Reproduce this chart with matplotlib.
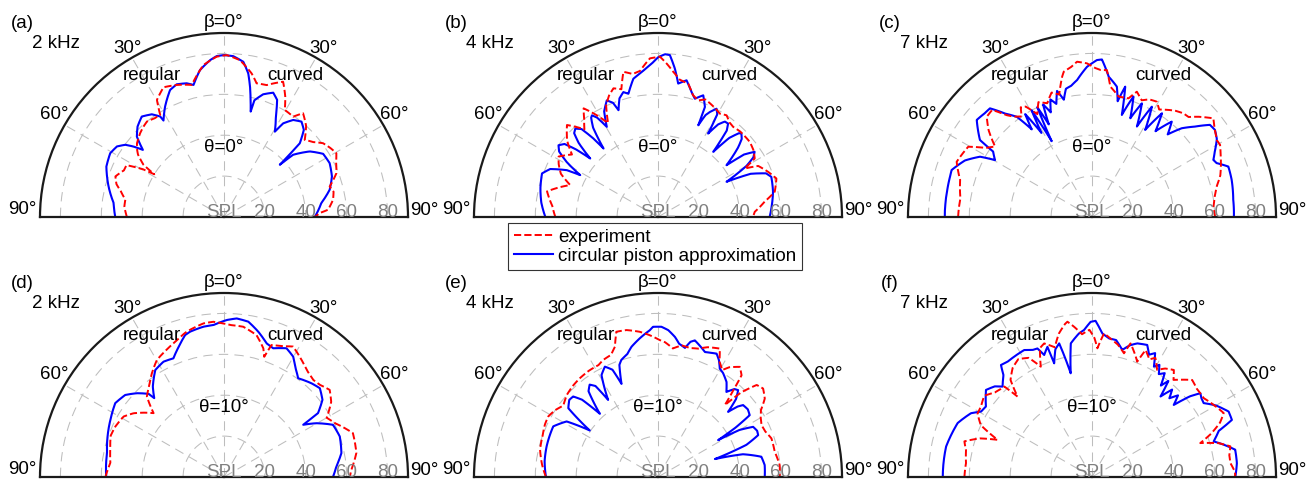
import numpy as np
import matplotlib
matplotlib.use("Agg")
import matplotlib.pyplot as plt
from matplotlib.lines import Line2D

plt.rcParams['font.family'] = ['Liberation Sans', 'DejaVu Sans']

# ---------------- data: (angle in degrees, SPL in dB) ----------------
A_BLUE = [(-90, 53.2), (-82.8, 54.4), (-75.2, 58.4), (-66.8, 62.6), (-60.7, 63.8), (-56.6, 62.7), (-53.8, 59.8),
          (-52.1, 56.1), (-50.4, 51.5), (-47.3, 58), (-43.7, 61.2), (-39.3, 63.5), (-35.1, 61.4), (-32.4, 58.2),
          (-32.1, 55.7), (-28.1, 61.2), (-23, 67.5), (-19.6, 68.9), (-15.6, 67.9), (-13, 66.3), (-9.3, 72.8),
          (-5.1, 77), (-2.6, 78.8), (0, 79.2), (3.3, 78.8), (7.1, 76.5), (9.6, 71.2), (11.3, 65), (12.8, 58.7),
          (14.2, 53.2), (14.6, 59), (17.7, 63), (21.6, 65.4), (24.4, 62.9), (27.3, 55.3), (30.8, 48.6),
          (32.3, 54.2), (35.5, 58.3), (39.1, 60.1), (42.5, 57.8), (45.8, 51.7), (46.9, 37.4), (48, 45.5),
          (52.6, 52.8), (57.5, 57.5), (63, 58), (69.4, 56.4), (75.5, 53.4), (81.8, 48.1), (90, 44.4)]
A_RED_DEG = [-90, -84, -80, -76, -73, -69.5, -65, -62, -59.5, -58.5, -57, -54, -52, -49.7, -45, -41.7, -38.9, -35, -32,
             -29.8, -25, -19.7, -13.7, -7.7, -2.6, 1, 5.8, 10.9, 13.7, 17.9, 23.6, 27, 29.6, 34.6, 37.3, 42, 46.3, 50,
             53.3, 57, 60.4, 64, 68.7, 73.9, 77, 81, 86, 87.6, 90]
A_RED_SPL = [47.5, 49, 49, 52, 55, 56.7, 54, 54, 46, 40, 47, 52, 54, 55.8, 58, 59.2, 60, 59, 58.9,
             66, 70, 68.6, 66.5, 75, 78.5, 79.2, 77.1, 71.5, 67.3, 67.8, 72.2, 66, 60.2, 59.6, 63.8, 60, 54.6, 57,
             60.4, 62, 63.2, 61, 59, 53.8, 55, 54, 51, 46.9, 44.4]

B_BLUE = [(-90, 55.1), (-83, 57.5), (-76.3, 59.2), (-69.4, 60.6), (-66, 57.7), (-62.8, 50.1), (-61.7, 43.2),
          (-59, 52), (-56.5, 58), (-54.2, 60), (-52, 58), (-50.5, 52), (-49.2, 43.8), (-47, 53), (-45, 58),
          (-43.1, 59.2), (-41, 57), (-39.5, 50), (-38.5, 42.8), (-36, 54), (-34, 58.5), (-33, 59.3), (-31.5, 57),
          (-29.6, 50.7), (-27, 58), (-23.7, 62.3), (-21.5, 60), (-20.3, 55.7), (-18, 61), (-15.5, 63.4),
          (-13.5, 62), (-10.1, 68.7), (-6.4, 71.3), (-2.4, 75), (0.1, 78.2), (2.5, 79.7), (4.2, 79.4), (6.5, 73),
          (8.6, 66), (11.8, 68.3), (15, 63.3), (17.3, 60.6), (20.4, 63.5), (23.1, 58.5), (23.7, 49), (25, 55),
          (26.3, 57.3), (28.4, 60.2), (30, 58), (31, 47.6), (33, 54), (35, 57), (36.9, 57.1), (38.5, 54),
          (40.3, 41.8), (42, 52), (44, 57), (45, 57.7), (47, 56), (49, 52), (52.9, 42), (54, 52), (56, 57),
          (58, 55), (60, 50), (62.8, 37.7), (65, 50), (68, 57), (70.5, 58.8), (77.6, 57.6), (84, 56), (90, 54.6)]
B_RED = [(-90, 50.2), (-84, 52), (-77, 55.7), (-73, 50), (-70, 45.7), (-66, 52), (-62, 55), (-58.7, 56.9),
         (-54, 52), (-50, 58), (-47, 61), (-44.7, 63.3), (-40, 56), (-37, 60), (-34.4, 64.4), (-31, 58), (-28, 52),
         (-25, 60), (-22, 64), (-19.1, 66.6), (-16, 65), (-13.4, 73), (-10, 71), (-7, 72), (-2.9, 77.7),
         (0.7, 78.4), (3.2, 75.2), (6, 71.4), (9, 68), (12.8, 66.8), (16, 62), (19, 60.3), (22, 62), (25, 61),
         (28, 60), (30.9, 58.9), (34, 60), (37, 58), (39.8, 57.4), (44, 58), (47, 58), (50.7, 58), (55, 57),
         (58.8, 55.3), (60.8, 48.6), (63, 55), (67.7, 58.2), (72, 60.9), (77.8, 58.4), (81.8, 52.7), (86.9, 47.4),
         (90, 46.4)]

C_BLUE_DEG = [-90, -80, -74, -71.5, -66, -61.7, -59.6, -56.5, -55.5, -52, -49.9, -46, -43.2, -40, -36.9, -34.5, -33,
              -31, -29.5, -28, -26.5, -25, -23.5, -21.5, -19.5, -17.5, -15.5, -13.5, -11.5, -9, -6.2, -1.9, 1.8, 3.6,
              6.8, 10.8, 12.5, 14.3, 16.3, 19, 21.2, 23.7, 26.4, 28.5, 31.4, 34, 36.5, 39.9, 42.5, 45.3, 48.7, 52,
              54.7, 58, 62, 64.8, 66.6, 69.7, 75, 83, 90]
C_BLUE_SPL = [72, 72, 72.2, 72.4, 68, 62.2, 55, 58, 66.5, 71, 73.7, 73, 72.9, 66, 61.3, 52, 60,
              48, 60, 42, 60, 50, 60, 55, 61, 58, 64, 59, 64, 65, 67.4, 73.5, 76.8, 77.2,
              69.1, 64.9, 58, 65.8, 52, 62.3, 51.8, 60.7, 49.4, 61.4, 49.9, 61.2, 52.2, 60.8, 54.8, 61.7, 67, 73.2,
              73.7, 72, 68, 65.6, 66.4, 71.1, 70.7, 69.6, 69.4]
C_RED_DEG = [-90, -82, -74.3, -67.8, -62, -60.4, -57, -54, -50, -46.4, -43, -40, -37.9, -35, -33, -31, -28, -25,
             -21.5, -18, -15, -12, -11, -8, -5.5, -1.9, 1, 3.2, 5.8, 8, 12.5, 17.1, 19.7, 23, 26, 29.3, 32, 35, 38,
             41.4, 44, 46.7, 50.9, 54, 58.3, 60.6, 64, 68, 72, 76.2, 80, 85, 90]
C_RED_SPL = [65.5, 65, 67, 71.5, 70, 69.6, 62, 58.6, 66, 71.1, 71.6, 65, 62.2, 60, 64, 63, 57, 62,
             59.8, 64, 62, 70.2, 72.4, 74, 76.3, 75.2, 73, 72, 72.2, 64.4, 60.3, 60.7, 65.1, 62, 64, 64.7, 62, 64, 66,
             67.6, 68, 71.5, 76.5, 74, 71.7, 71.9, 70, 68, 66, 62.8, 61, 59.6, 60.2]

D_BLUE = [(-90, 57.6), (-78.4, 58.4), (-63.3, 62.2), (-55.8, 64.3), (-50.3, 62.8), (-46.1, 59.1), (-42.2, 54.9),
          (-41.5, 51.5), (-38.2, 56.3), (-32.7, 62.2), (-27.7, 63.7), (-23.1, 63.1), (-19.4, 67.2), (-15.3, 72),
          (-13.1, 73), (-7.8, 74.2), (-4, 74.5), (1, 76.8), (4.6, 77.8), (8.9, 76.9), (13.3, 73), (17.7, 68.6),
          (20.9, 67.4), (25.9, 70), (29.9, 67.9), (33, 64), (36.9, 60.4), (43, 62.7), (47.2, 63.9), (51.9, 61.2),
          (55.8, 55.6), (56.6, 46.4), (59.8, 52.3), (64.4, 59.1), (70.7, 60), (78.5, 58.6), (84.6, 55.2),
          (90, 53.3)]
D_RED_DEG = [-90, -83, -76.5, -70, -65.1, -58.9, -54.8, -51, -47.8, -43.8, -39, -34.8, -29.8, -25, -20.7, -14.4,
             -7.6, -3.9, 2.3, 7.3, 12.9, 17, 18.5, 19.8, 24, 27.9, 33.5, 38, 42.5, 46, 50.5, 55, 60, 64, 71.2, 79.7,
             86.7, 90]
D_RED_SPL = [58, 56, 57.2, 59, 58.6, 57.3, 54.1, 50, 46.5, 54.5, 58, 61.8, 66, 68, 69.9, 73.4,
             75.8, 76.1, 74.4, 74.1, 71.2, 65.8, 62, 68.6, 70, 72.2, 68.7, 66, 64.5, 65, 67, 64, 58, 60.2, 66.6, 65.8,
             62.4, 61.5]

E_BLUE = [(-90, 54.8), (-82, 56), (-74.6, 56.5), (-64.2, 56.9), (-58.7, 52.3), (-55.7, 40.4), (-52.5, 55.3),
          (-49, 57.5), (-46.5, 57.2), (-44.5, 53), (-42.6, 42), (-39, 54), (-36.5, 56.2), (-34.5, 54),
          (-32.9, 44.9), (-29, 57), (-25.7, 59.9), (-23, 57), (-21.4, 48.9), (-19, 58), (-17.4, 60), (-14, 62),
          (-11.5, 65), (-7.5, 68.4), (-3.2, 71.9), (-1.9, 73.5), (1.3, 73.5), (4, 72), (6.9, 69), (9, 66),
          (11.8, 64.5), (13.5, 68), (15.1, 69.2), (17.5, 67.5), (20.6, 65.3), (23, 66), (25.4, 66.8), (27.5, 64.5),
          (29.7, 61), (32, 60), (35.8, 57.3), (38.8, 53.4), (41, 57), (42.7, 57.8), (45, 54), (47.1, 46.8),
          (48.5, 52), (49.8, 54.5), (53, 55), (56, 54.1), (57.5, 45), (58.5, 34.5), (60, 46), (62.2, 52.6),
          (65, 53.5), (67.3, 53.1), (70, 46), (72.5, 29.2), (75, 43), (78.9, 51.5), (83.6, 52.5), (90, 52.2)]
E_RED = [(-90, 54.8), (-84, 57), (-77, 59.2), (-70, 60), (-65, 61), (-61.1, 61.3), (-57, 60), (-53, 58), (-48, 60),
         (-43, 61), (-38.4, 61.6), (-33, 62), (-28, 62), (-25.1, 63.2), (-21, 64), (-18.3, 67.1), (-16, 73.9),
         (-12.1, 73.5), (-7.2, 71.6), (-3.4, 69.5), (0.7, 67), (3, 66), (6.6, 63.3), (10.2, 65.4), (14, 65),
         (17.4, 65.8), (21, 68), (25.7, 69.7), (28, 64), (31, 61), (33, 64), (36.6, 67.1), (39.4, 64.4), (41, 56),
         (42.9, 48), (44.5, 58), (47, 66), (49.9, 67.2), (53.7, 64.8), (57, 60), (60, 58), (63.4, 56.6), (67, 57),
         (71.2, 58.6), (77.8, 58.4), (84.4, 59.8), (90, 59.5)]

F_BLUE_DEG = [-90, -78.2, -68.1, -62.2, -59.5, -56.4, -50.6, -47, -44.7, -41, -39.1, -36.2, -32.9, -28.1, -25.1, -23,
              -21.4, -18.9, -18.4, -16, -13.8, -11.6, -9, -5.2, -3.1, -0.5, 1.3, 4.1, 7, 10, 13.4, 16, 18.7, 22.7,
              25, 27, 29.3, 31, 33, 35, 37, 38.5, 40.4, 42.5, 44.5, 46.5, 48.6, 50.5, 52.3, 54, 56.5, 60, 64.4, 67.8,
              70, 73.7, 76, 79.2, 84.5, 90]
F_BLUE_SPL = [73, 72.9, 70.8, 66.9, 63, 62.3, 67.1, 65, 62.2, 66, 70.6, 69.9, 70.1, 70.4, 68.6, 68.3,
              64.1, 67.3, 58.6, 65, 67.3, 51.8, 66.2, 70.5, 72, 75.9, 76.4, 70.4, 68.3, 68, 63.9, 67, 69, 70,
              66, 68, 61.9, 64, 60, 62, 56, 60, 51.7, 58, 54, 58, 53.3, 62, 67, 66, 65.5, 70, 74.1, 73.9,
              66, 62, 66, 71.3, 71.2, 70.1]
F_RED_DEG = [-90, -83.7, -78, -74.4, -71, -68.5, -65, -61, -57.6, -53, -49, -46, -44.1, -42.8, -40, -36, -32, -28,
             -24.9, -22, -19.7, -16, -13, -10, -9, -6.8, -4, -1, 1, 2.4, 4.8, 8, 11, 14.5, 16.1, 19, 21.4, 22.9, 26,
             28, 31.3, 34, 37.4, 40, 42, 45.9, 50, 54.8, 59, 64.1, 67, 70, 72.6, 75, 77.5, 81, 84.2, 88, 90]
F_RED_SPL = [62.4, 62, 63, 64.8, 58, 49.6, 60, 64, 64.3, 66, 63, 62, 61.6, 53.6, 62, 66, 68, 66,
             59.5, 68, 69.4, 66, 72, 76, 76.9, 74, 70, 72, 68, 63, 70.5, 68, 66, 62.5, 68, 64, 60.6, 67.4, 64,
             66, 61.3, 64, 65.9, 62, 64, 68.2, 67, 66.9, 69, 71.6, 68, 62, 55.5, 64, 69.3, 68, 68, 70, 70]

PANEL_LABELS = ['(a)', '(b)', '(c)', '(d)', '(e)', '(f)']
FREQ_LABELS = ['2 kHz', '4 kHz', '7 kHz', '2 kHz', '4 kHz', '7 kHz']
THETA_LABELS = ['θ=0°', 'θ=0°', 'θ=0°', 'θ=10°', 'θ=10°', 'θ=10°']
ANGLE_LABELS = ['90°', '60°', '30°', 'β=0°', '30°', '60°', '90°']
SPL_TICKS = [0, 20, 40, 60, 80]
SPL_TICK_LABELS = ['SPL', '20', '40', '60', '80']
SIDE_LABELS = ['regular', 'curved']
LEGEND_LABELS = ['experiment', 'circular piston approximation']


def split(pairs):
    arr = np.asarray(pairs, dtype=float)
    return arr[:, 0], arr[:, 1]


BLUE = [split(A_BLUE), split(B_BLUE), (C_BLUE_DEG, C_BLUE_SPL),
        split(D_BLUE), split(E_BLUE), (F_BLUE_DEG, F_BLUE_SPL)]
RED = [(A_RED_DEG, A_RED_SPL), split(B_RED), (C_RED_DEG, C_RED_SPL),
       (D_RED_DEG, D_RED_SPL), split(E_RED), (F_RED_DEG, F_RED_SPL)]

# ---------------- layout ----------------
W, H = 1313, 479
R = 184.0
CX = [224, 658, 1092]
CY = [217, 477]
ANGLE_LABEL_POS = [(-88, 98.5), (-59, 97), (-29.7, 95), (0, 95), (30.5, 95.5), (59, 97), (88, 98)]
SIDE_LABEL_POS = [(-27, 77.8), (26.6, 77.6)]
FS = 13.5
RED_C = '#ff0000'
BLUE_C = '#0000ff'

fig = plt.figure(figsize=(W / 100, H / 100), dpi=100)

for i in range(6):
    cx = CX[i % 3]
    cy = CY[i // 3]
    rect = [(cx - R) / W, (H - cy - R / 2) / H, 2 * R / W, 2 * R / H]
    ax = fig.add_axes(rect, projection='polar')
    ax.set_theta_zero_location('N')
    ax.set_theta_direction(-1)
    ax.set_thetamin(-90)
    ax.set_thetamax(90)
    ax.set_ylim(0, 90)
    ax.set_xticks(np.deg2rad([-60, -30, 0, 30, 60]))
    ax.set_xticklabels([])
    ax.set_yticks([20, 40, 60, 80])
    ax.set_yticklabels([])
    ax.tick_params(length=0)
    ax.grid(True, color='#bdbdbd', linestyle=(0, (9, 6)), linewidth=0.75)
    for s in ['polar', 'start', 'end']:
        ax.spines[s].set_color('#1a1a1a')
        ax.spines[s].set_linewidth(1.6)
    ax.spines['inner'].set_visible(False)

    bd, bs = BLUE[i]
    rd, rs = RED[i]
    lb, = ax.plot(np.deg2rad(bd), bs, color=BLUE_C, lw=1.5, solid_joinstyle='round')
    lr, = ax.plot(np.deg2rad(rd), rs, color=RED_C, lw=1.4, linestyle='--')
    for ln in (lb, lr):
        ln.get_path()._interpolation_steps = 40

    for (ang, rr), lab in zip(ANGLE_LABEL_POS, ANGLE_LABELS):
        ax.text(np.deg2rad(ang), rr, lab, ha='center', va='center', fontsize=FS, color='black')
    for (ang, rr), lab in zip(SIDE_LABEL_POS, SIDE_LABELS):
        ax.text(np.deg2rad(ang), rr, lab, ha='center', va='center', fontsize=FS, color='black')
    ax.text(0, 34, THETA_LABELS[i], ha='center', va='center', fontsize=FS, color='black')
    for rv, lab in zip(SPL_TICKS, SPL_TICK_LABELS):
        ax.text(np.deg2rad(90), rv, lab, ha='center', va='baseline', fontsize=FS, color='#808080')

    fig.text((cx - 202) / W, 1 - (cy - 194) / H, PANEL_LABELS[i], ha='center', va='center', fontsize=FS)
    fig.text((cx - 168.5) / W, 1 - (cy - 173) / H, FREQ_LABELS[i], ha='center', va='center', fontsize=FS)

handles = [Line2D([], [], color=RED_C, lw=1.4, linestyle='--'),
           Line2D([], [], color=BLUE_C, lw=1.5)]
leg = fig.legend(handles, LEGEND_LABELS, loc='center', bbox_to_anchor=(655 / W, 1 - 246.5 / H),
                 frameon=True, fancybox=False, framealpha=1, edgecolor='#333333',
                 borderpad=0.3, labelspacing=0.1, handlelength=2.1, handletextpad=0.25,
                 borderaxespad=0, fontsize=FS)
leg.get_frame().set_linewidth(0.8)

fig.savefig('out.png', dpi=100)
